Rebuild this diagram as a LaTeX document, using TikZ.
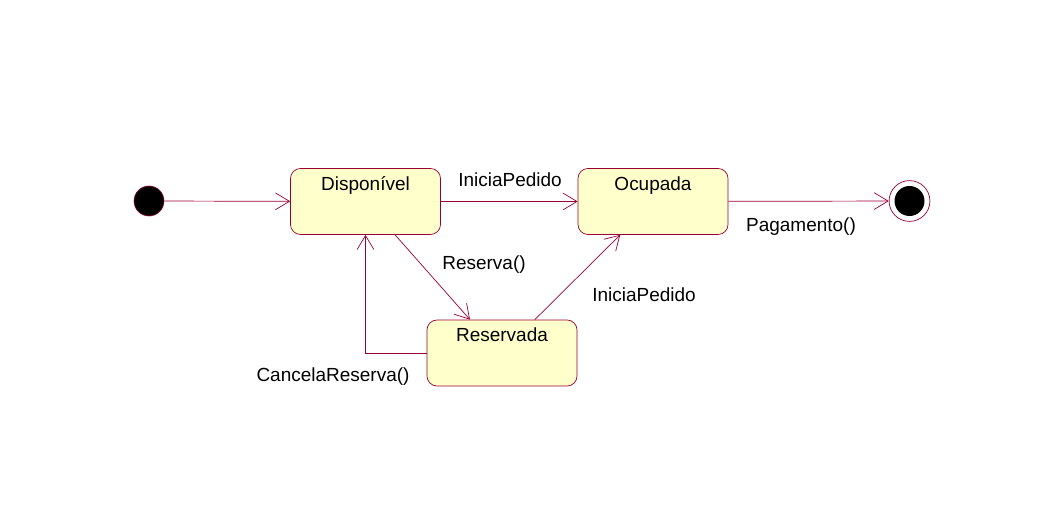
\documentclass[tikz,border=0pt]{standalone}
\usepackage{fontspec}
\setmainfont{Liberation Sans}
\usetikzlibrary{arrows.meta}

\definecolor{maroon}{RGB}{153,0,51}
\definecolor{cream}{RGB}{255,255,204}

\tikzset{
  state/.style={draw=maroon, fill=cream, rounded corners=0.25cm, line width=0.5pt,
    minimum width=3.75cm, inner xsep=0pt, inner ysep=0.2cm,
    text height=0.35cm, text depth=0.9cm, font=\fontsize{13.5}{16}\selectfont},
  trans/.style={draw=maroon, line width=0.5pt, -{Straight Barb[length=3.5mm,width=4.2mm]}},
  lbl/.style={font=\fontsize{13.5}{16}\selectfont, inner sep=1pt}
}

\begin{document}
\begin{tikzpicture}[x=0.025cm,y=-0.025cm]
\useasboundingbox (0,0) rectangle (1056,530);

% states
\node[state] (disp) at (365.5,201.5) {Disponível};
\node[state] (ocup) at (653,201.5) {Ocupada};
\node[state] (res) at (502,353) {Reservada};

% initial and final
\node[circle, fill=black, draw=maroon, minimum size=0.75cm, inner sep=0pt] (ini) at (149,201) {};
\node[circle, draw=maroon, line width=0.5pt, minimum size=1.02cm, inner sep=0pt] (fim) at (909.5,201) {};
\node[circle, fill=black, minimum size=0.75cm, inner sep=0pt] (fimdot) at (909.5,201) {};

% transitions
\draw[trans] (ini) -- (disp);
\draw[trans] (disp) -- (ocup);
\draw[trans] (ocup) -- (fim);
\draw[trans] ([xshift=0.74cm]disp.south) -- ([xshift=-0.8cm]res.north);
\draw[trans] ([xshift=0.82cm]res.north) -- ([xshift=-0.82cm]ocup.south);
\draw[trans] (res.west) -| (disp.south);

% labels
\node[lbl] (lblIni1) at (510,180) {IniciaPedido};
\node[lbl] (lblPag) at (801,227) {Pagamento()};
\node[lbl] (lblRes) at (484,265) {Reserva()};
\node[lbl] (lblIni2) at (644,295) {IniciaPedido};
\node[lbl] (lblCanc) at (333,377) {CancelaReserva()};

\end{tikzpicture}
\end{document}
